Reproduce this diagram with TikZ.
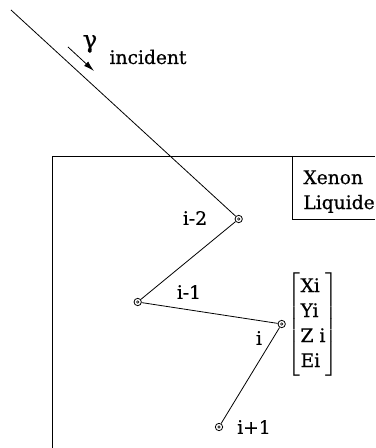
\documentclass[tikz,border=0pt]{standalone}
\usepackage{amsmath}
\usepackage{fontspec}
\setmainfont{DejaVu Serif}[FakeBold=0.6]
\usetikzlibrary{arrows, arrows.meta, positioning}

\begin{document}
\begin{tikzpicture}[x=0.75pt,y=-0.75pt]

\tikzset{vertex/.style = {shape=circle,draw,inner sep=0pt,minimum size=5.5pt,
  path picture={\draw[line width=0.4pt] (path picture bounding box.center) circle (0.9pt);}}}
\tikzset{lbl/.style = {font=\fontsize{14}{18.75}\selectfont,inner sep=0pt}}
\tikzset{every path/.style = {line width=0.6pt}}

\useasboundingbox (0,0) rectangle (375,448);

% detector
\draw (52.3,448) -- (52.3,156) -- (375,156);
\draw (292.3,156) -- (292.3,219) -- (375,219);
\node[lbl,anchor=north west,align=left] (xe) at (303,170) {Xenon\\Liquide};

% vertices
\coordinate (in) at (11,10);
\node[vertex] (a) at (238.7,219) {};
\node[vertex] (b) at (137.7,302) {};
\node[vertex] (c) at (281.7,324) {};
\node[vertex] (d) at (219,427) {};

% labels
\node[lbl] (la) at (195,218) {i-2};
\node[lbl] (lb) at (189,292) {i-1};
\node[lbl] (lc) at (259,338) {i};
\node[lbl] (ld) at (254,427) {i+1};
\node[lbl] (vec) at (313,324.5)
  {$\left[\begin{tabular}{@{}l@{}}Xi\\Yi\\Z i\\Ei\end{tabular}\right]$};

% incident photon
\coordinate (g1) at (68,47);
\coordinate (g2) at (94,71);
\draw[-{Latex[length=8pt,width=4.5pt]}] (g1) -- (g2);
\node[lbl,font=\fontsize{18}{20}\selectfont] (gam) at (90,44) {γ};
\node[lbl] (inc) at (148,57) {incident};

%edges
\draw (in) -- (a) -- (b) -- (c) -- (d);

\end{tikzpicture}
\end{document}
